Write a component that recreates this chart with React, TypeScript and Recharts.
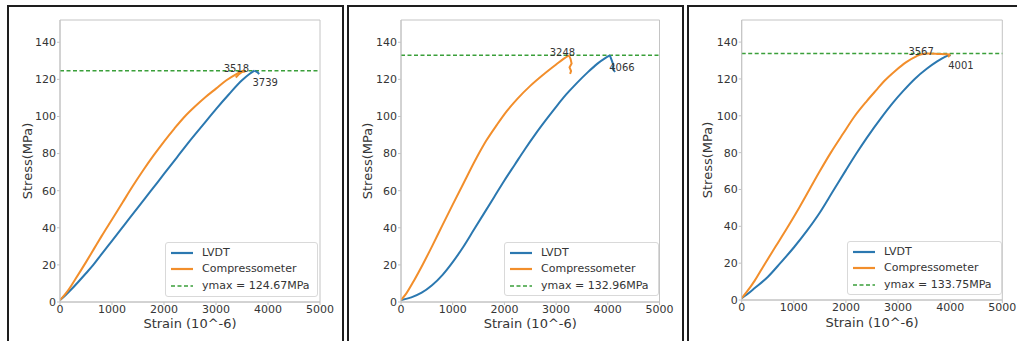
import {
  ComposedChart,
  Line,
  Scatter,
  XAxis,
  YAxis,
  ReferenceLine,
  ReferenceArea,
  Legend,
  Label,
} from 'recharts';

// Axis ticks shared by all three panels
const X_TICKS = [0, 1000, 2000, 3000, 4000, 5000];
const Y_TICKS = [0, 20, 40, 60, 80, 100, 120, 140];

// Panel 1 (strain, stress); *_TAIL = little hook after the peak
const LVDT_1 = [
  [0, 1], [100, 3.5], [200, 6.3], [350, 10.8], [500, 15.5], [640, 20], [800, 25.8], [1000, 33],
  [1250, 42], [1500, 51], [1750, 60], [2000, 69], [2250, 78], [2500, 87], [2750, 95.5],
  [3000, 104], [3250, 112], [3500, 119.5], [3650, 123], [3739, 124.67],
];
const LVDT_1_TAIL = [[3739, 124.67], [3800, 123.8], [3830, 122.8]];
const COMP_1 = [
  [0, 1], [150, 6], [300, 12.5], [500, 21.5], [650, 28.5], [800, 35.5], [1000, 44.5], [1200, 53.5],
  [1400, 62.5], [1600, 71], [1800, 79], [2000, 86.5], [2200, 93.5], [2400, 100], [2600, 105.5],
  [2800, 110.5], [3000, 115], [3200, 119.5], [3400, 123], [3518, 124.67],
];
const COMP_1_TAIL = [[3518, 124.67], [3560, 124.3], [3500, 124], [3430, 122.5], [3380, 121]];
const YMAX_1 = 124.67;
const COMP_PEAK_1 = 3518;
const LVDT_PEAK_1 = 3739;

// Panel 2
const LVDT_2 = [
  [0, 1], [200, 2.5], [400, 5], [600, 9], [800, 14.5], [1000, 21.5], [1200, 29.5], [1400, 38.5],
  [1600, 47.5], [1800, 56.5], [2000, 65.5], [2200, 74], [2400, 82.5], [2600, 90.5], [2800, 98],
  [3000, 105.2], [3200, 112], [3400, 118], [3600, 123.5], [3800, 128.5], [3950, 131.5],
  [4040, 132.96],
];
const LVDT_2_TAIL = [[4040, 132.96], [4080, 130], [4110, 127.5], [4090, 126], [4140, 124]];
const COMP_2 = [
  [0, 1], [100, 4.5], [250, 11.5], [426, 20.5], [600, 30], [800, 41.3], [1000, 52.5], [1200, 63.5],
  [1467, 78], [1650, 87], [1855, 95.5], [2050, 103], [2250, 109.5], [2500, 116.5],
  [2750, 122.5], [3000, 128], [3150, 131.2], [3248, 132.96],
];
const COMP_2_TAIL = [[3248, 132.96], [3280, 131], [3300, 128.5], [3260, 126.5], [3290, 124.5], [3270, 123]];
const YMAX_2 = 132.96;
const COMP_PEAK_2 = 3248;
const LVDT_PEAK_2 = 4066;

// Panel 3
const LVDT_3 = [
  [0, 1], [100, 3], [250, 6.5], [500, 12.5], [740, 20], [1000, 28.5], [1250, 37.5], [1500, 47.5],
  [1750, 59], [2000, 70.5], [2200, 79.5], [2400, 88], [2680, 99], [2900, 107], [3100, 113.5],
  [3320, 120], [3550, 125.5], [3750, 129.5], [3900, 132], [4001, 133.2],
];
const LVDT_3_TAIL = [[4001, 133.2], [3985, 132.4]];
const COMP_3 = [
  [0, 1], [100, 4.5], [250, 10.5], [420, 18.5], [650, 29], [880, 39.5], [1100, 50], [1300, 60],
  [1500, 70], [1710, 80], [1950, 90.5], [2160, 99.5], [2400, 108], [2600, 114.5], [2740, 119],
  [2950, 124.5], [3150, 129], [3350, 132.3], [3450, 133.4], [3567, 133.75], [3750, 133.6],
  [3900, 133.4], [4000, 133.3],
];
const COMP_3_TAIL = [[4000, 133.3], [3960, 131.8]];
const YMAX_3 = 133.75;
const COMP_PEAK_3 = 3567;
const LVDT_PEAK_3 = 4001;

const BLUE = '#2b78b0';
const ORANGE = '#f28e2b';
const GREEN = '#3a9f3a';
const TEXT = '#353535';
const SPINE = '#c4c4c4';
const FONT = '"DejaVu Sans", sans-serif';

const toPts = (arr: number[][]) => arr.map(([x, y]) => ({ x, y }));

interface PanelProps {
  lvdt: number[][];
  lvdtTail: number[][];
  comp: number[][];
  compTail: number[][];
  ymax: number;
  compPeak: number;
  lvdtPeak: number;
  left: number;
  width: number;
  margin: { top: number; right: number; bottom: number; left: number };
  legend: { left: number; top: number; width: number; height: number };
  yLabelOffset: number;
  xLabelOffset: number;
}

function LegendBox({ ymax }: { ymax: number }) {
  const rows = [
    { label: 'LVDT', color: BLUE, dash: undefined, top: 10 },
    { label: 'Compressometer', color: ORANGE, dash: undefined, top: 26 },
    { label: `ymax = ${ymax}MPa`, color: GREEN, dash: '4 2.5', top: 43 },
  ];
  return (
    <div
      style={{
        position: 'relative',
        width: '100%',
        height: '100%',
        boxSizing: 'border-box',
        border: '1px solid #d9d9d9',
        borderRadius: 3,
        background: 'rgba(255,255,255,0.85)',
        fontFamily: FONT,
        fontSize: 11,
        color: TEXT,
      }}
    >
      {rows.map((r) => (
        <div key={r.label} style={{ position: 'absolute', left: 0, top: r.top - 7, height: 14, width: '100%' }}>
          <svg width={30} height={14} style={{ position: 'absolute', left: 4, top: 0 }}>
            <line x1={1} y1={7} x2={23} y2={7} stroke={r.color} strokeWidth={r.dash ? 1.5 : 2.2} strokeDasharray={r.dash} />
          </svg>
          <span style={{ position: 'absolute', left: 36, top: 0, lineHeight: '14px', whiteSpace: 'nowrap' }}>{r.label}</span>
        </div>
      ))}
    </div>
  );
}

function Panel(p: PanelProps) {
  const tick = { fontSize: 11, fill: TEXT, fontFamily: FONT };
  return (
    <div style={{ position: 'absolute', left: p.left, top: 0 }}>
      <ComposedChart width={p.width} height={341} margin={p.margin} style={{ fontFamily: FONT }}>
        <XAxis
          dataKey="x"
          type="number"
          domain={[0, 5000]}
          ticks={X_TICKS}
          allowDataOverflow
          height={30}
          tick={tick}
          tickSize={3}
          tickMargin={0}
          tickLine={{ stroke: SPINE }}
          axisLine={{ stroke: SPINE }}
          interval={0}
        >
          <Label value="Strain (10^-6)" position="insideBottom" offset={p.xLabelOffset} style={{ fontSize: 13, fill: TEXT, fontFamily: FONT }} />
        </XAxis>
        <YAxis
          type="number"
          domain={[0, 152]}
          ticks={Y_TICKS}
          allowDataOverflow
          width={45}
          tick={tick}
          tickSize={3}
          tickMargin={1}
          tickLine={{ stroke: SPINE }}
          axisLine={{ stroke: SPINE }}
          interval={0}
        >
          <Label
            value="Stress(MPa)"
            angle={-90}
            position="insideLeft"
            offset={p.yLabelOffset}
            style={{ fontSize: 13, fill: TEXT, fontFamily: FONT, textAnchor: 'middle' }}
          />
        </YAxis>
        <ReferenceArea x1={0} x2={5000} y1={0} y2={152} fill="none" stroke={SPINE} strokeWidth={1} />
        <ReferenceLine y={p.ymax} stroke={GREEN} strokeWidth={1.5} strokeDasharray="4 2.5" />
        <Line data={toPts(p.lvdt)} dataKey="y" type="monotone" stroke={BLUE} strokeWidth={2} dot={false} isAnimationActive={false} />
        <Line data={toPts(p.lvdtTail)} dataKey="y" type="linear" stroke={BLUE} strokeWidth={2} dot={false} isAnimationActive={false} legendType="none" />
        <Line data={toPts(p.comp)} dataKey="y" type="monotone" stroke={ORANGE} strokeWidth={2} dot={false} isAnimationActive={false} />
        <Line data={toPts(p.compTail)} dataKey="y" type="linear" stroke={ORANGE} strokeWidth={2} dot={false} isAnimationActive={false} legendType="none" />
        <Scatter
          data={[{ x: p.compPeak, y: p.ymax }]}
          dataKey="y"
          isAnimationActive={false}
          legendType="none"
          shape={(s: any) => (
            <text x={s.cx - 6.5} y={s.cy + 1} textAnchor="middle" fontSize={10} fill={TEXT} fontFamily={FONT}>
              {p.compPeak}
            </text>
          )}
        />
        <Scatter
          data={[{ x: p.lvdtPeak, y: p.ymax }]}
          dataKey="y"
          isAnimationActive={false}
          legendType="none"
          shape={(s: any) => (
            <text x={s.cx - 2} y={s.cy + 15.3} textAnchor="start" fontSize={10} fill={TEXT} fontFamily={FONT}>
              {p.lvdtPeak}
            </text>
          )}
        />
        <Legend
          layout="vertical"
          align="center"
          verticalAlign="middle"
          content={() => <LegendBox ymax={p.ymax} />}
          wrapperStyle={{
            position: 'absolute',
            left: p.legend.left,
            top: p.legend.top,
            width: p.legend.width,
            height: p.legend.height,
            margin: 0,
          }}
        />
      </ComposedChart>
    </div>
  );
}

const frame = (left: number, width: number, right = true) => (
  <div
    style={{
      position: 'absolute',
      left,
      top: 5,
      width,
      height: 345,
      boxSizing: 'border-box',
      borderTop: '2px solid #1e1e1e',
      borderLeft: '2px solid #1e1e1e',
      borderRight: right ? '2px solid #1e1e1e' : 'none',
    }}
  />
);

export default function App() {
  return (
    <div style={{ position: 'absolute', left: 0, top: 0, width: 1017, height: 341, overflow: 'hidden', background: '#fff' }}>
      {frame(7, 337)}
      {frame(347, 337)}
      {frame(687, 340, false)}
      <Panel
        lvdt={LVDT_1}
        lvdtTail={LVDT_1_TAIL}
        comp={COMP_1}
        compTail={COMP_1_TAIL}
        ymax={YMAX_1}
        compPeak={COMP_PEAK_1}
        lvdtPeak={LVDT_PEAK_1}
        left={0}
        width={345}
        margin={{ top: 20, right: 25, bottom: 9, left: 15 }}
        legend={{ left: 165, top: 242, width: 153, height: 55 }}
        yLabelOffset={12.5}
        xLabelOffset={4}
      />
      <Panel
        lvdt={LVDT_2}
        lvdtTail={LVDT_2_TAIL}
        comp={COMP_2}
        compTail={COMP_2_TAIL}
        ymax={YMAX_2}
        compPeak={COMP_PEAK_2}
        lvdtPeak={LVDT_PEAK_2}
        left={340}
        width={345}
        margin={{ top: 20, right: 25.5, bottom: 9, left: 16 }}
        legend={{ left: 164, top: 242, width: 155, height: 54 }}
        yLabelOffset={11.5}
        xLabelOffset={4}
      />
      <Panel
        lvdt={LVDT_3}
        lvdtTail={LVDT_3_TAIL}
        comp={COMP_3}
        compTail={COMP_3_TAIL}
        ymax={YMAX_3}
        compPeak={COMP_PEAK_3}
        lvdtPeak={LVDT_PEAK_3}
        left={680}
        width={337}
        margin={{ top: 20, right: 14.7, bottom: 11, left: 16.7 }}
        legend={{ left: 167, top: 241, width: 155, height: 54 }}
        yLabelOffset={10.8}
        xLabelOffset={3}
      />
    </div>
  );
}
